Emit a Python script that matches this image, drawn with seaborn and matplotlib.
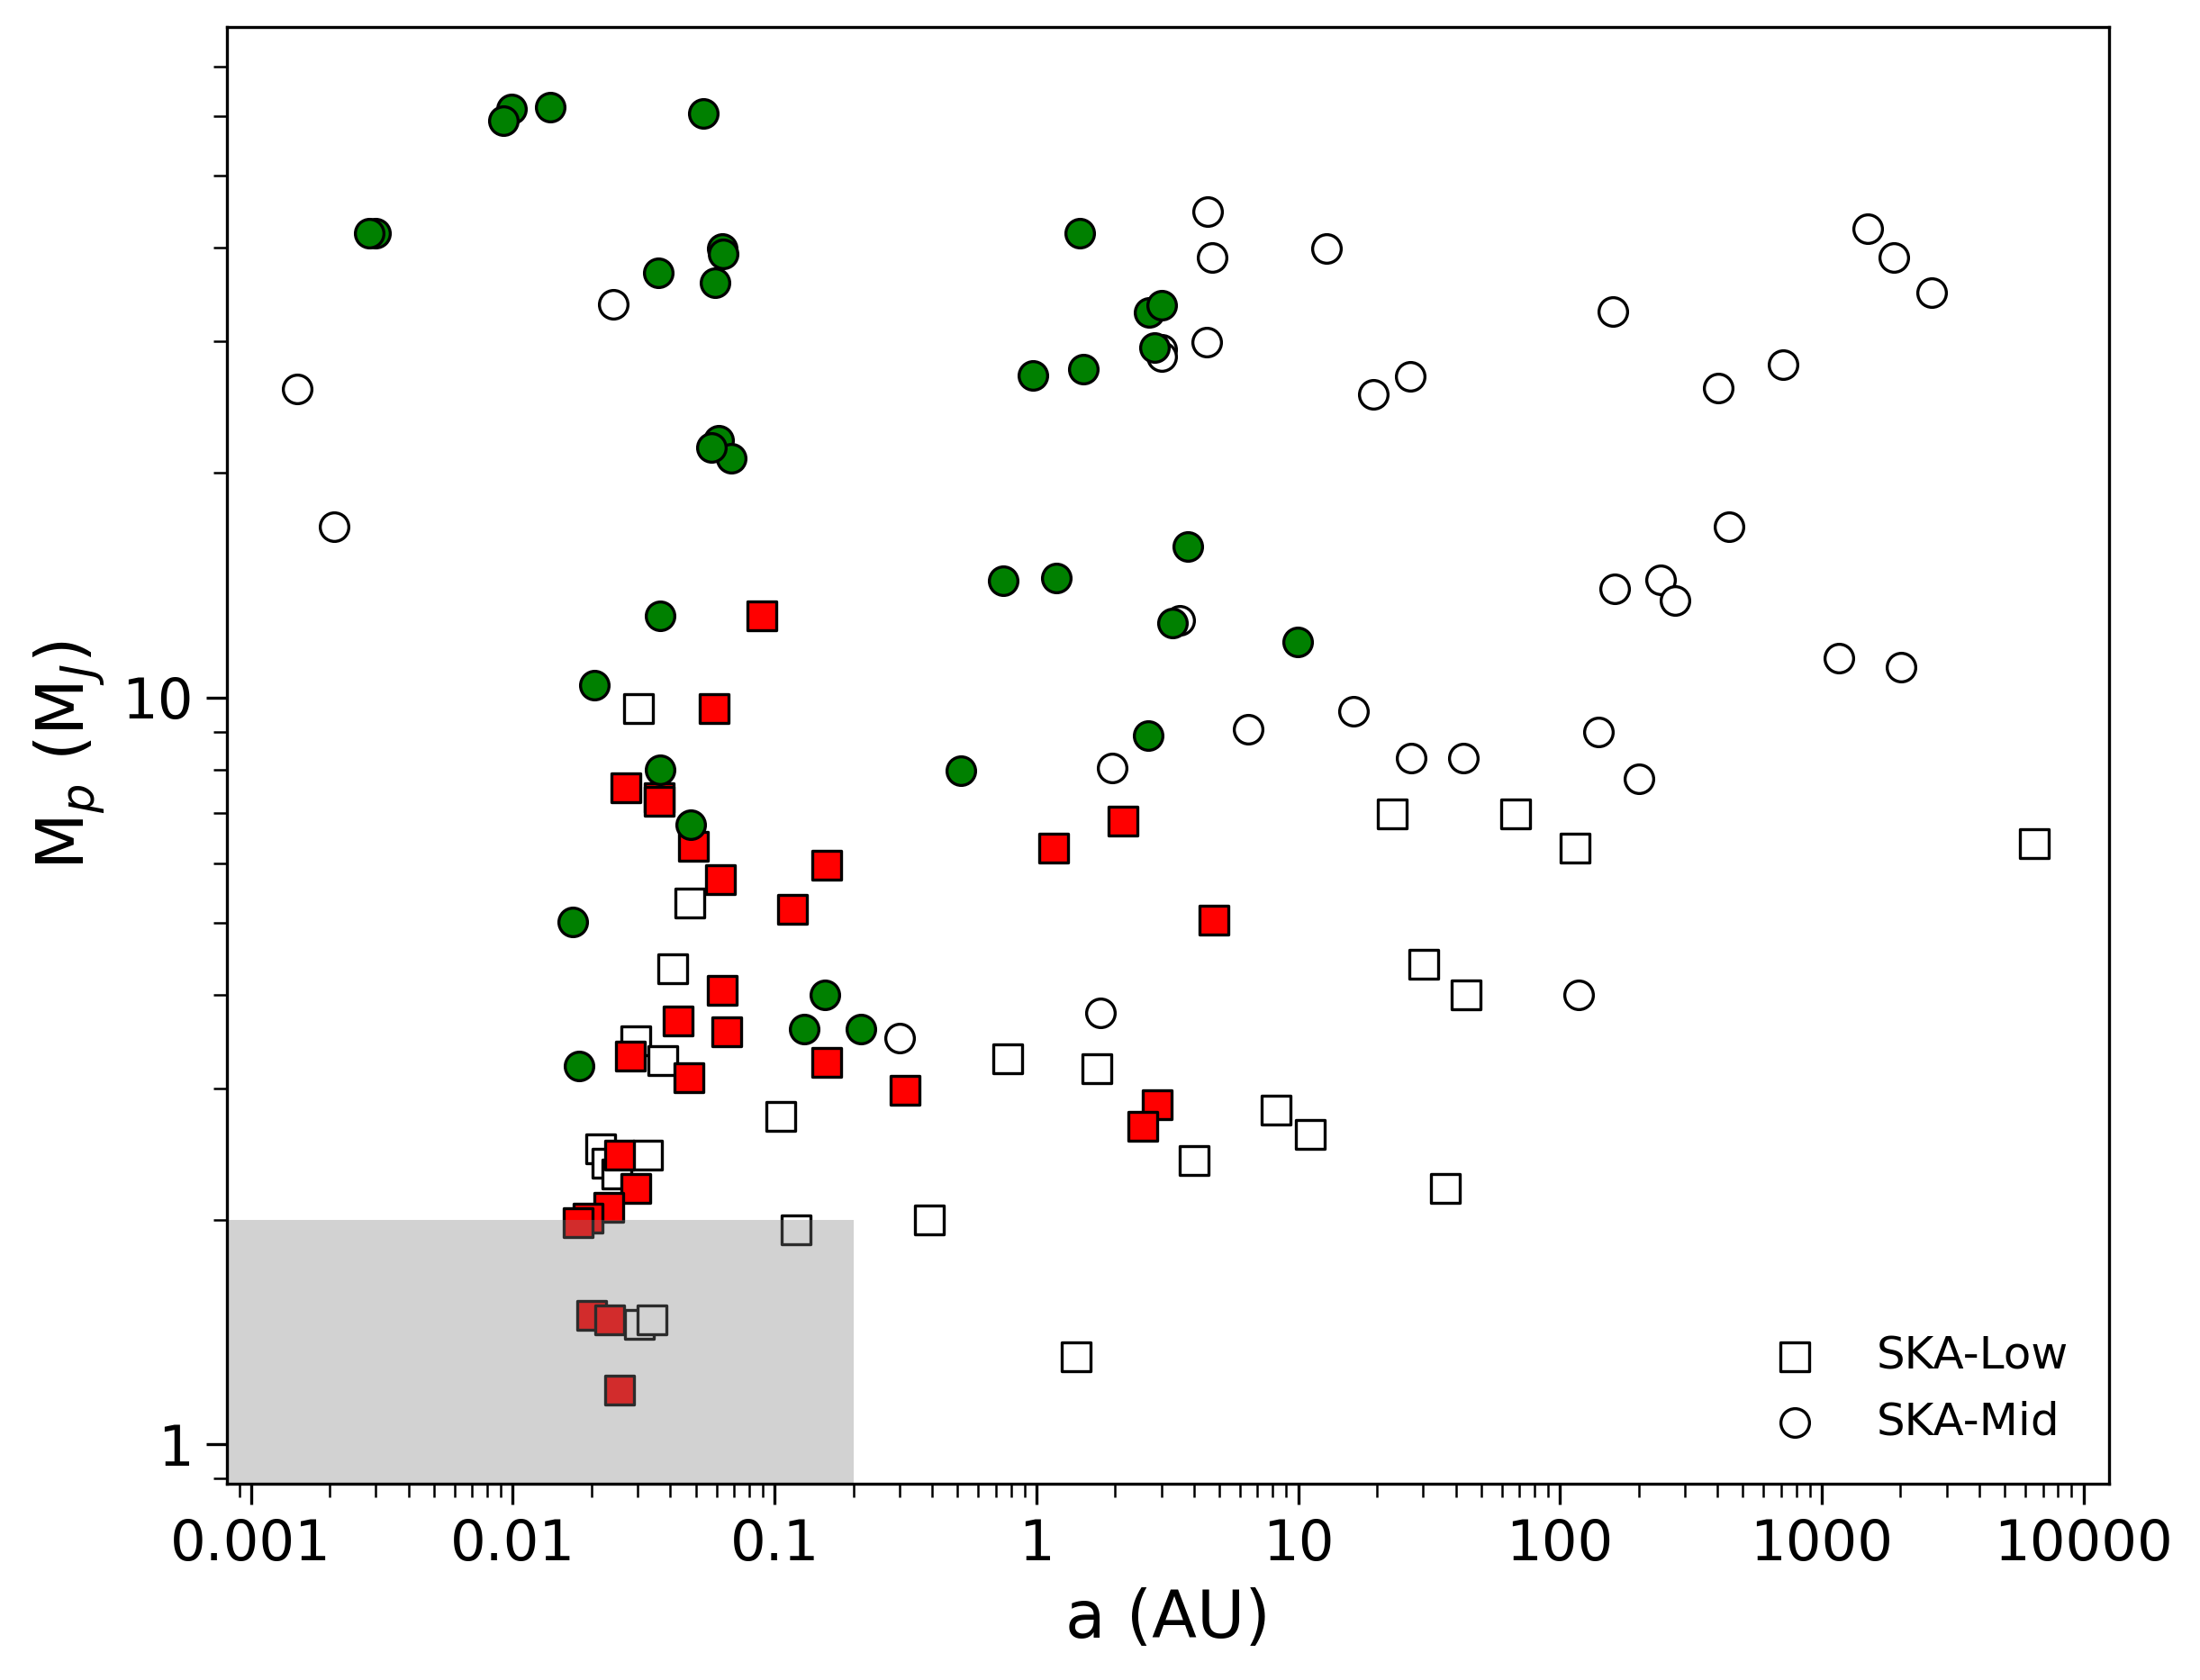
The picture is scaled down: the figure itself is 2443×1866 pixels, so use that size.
import numpy as np
import matplotlib.pyplot as plt
import seaborn as sns
from matplotlib.ticker import LogLocator, NullFormatter

# SKA-Low (open squares)
low_a = [0.0301, 0.0474, 0.0407, 0.0296, 0.0375, 0.1056, 0.0216, 0.0228, 0.0328,
         0.0250, 0.121, 0.0304, 0.0341, 0.389, 0.776, 1.706, 1.418, 4.02, 8.22,
         11.14, 36.5, 30.2, 43.8, 22.8, 67.9, 113.9, 6484]
low_mp = [9.68, 5.31, 4.33, 3.47, 3.27, 2.75, 2.49, 2.38, 2.44,
          2.30, 1.94, 1.447, 1.467, 2.00, 3.28, 3.19, 1.309, 2.40, 2.80,
          2.60, 2.20, 4.39, 4.00, 6.99, 6.99, 6.29, 6.38]

# SKA-Mid (open circles)
mid_a = [0.001495, 0.00207, 0.0241, 3.011, 3.011, 4.51, 4.69, 12.83, 4.47, 26.9,
         19.4, 3.53, 16.3, 6.44, 1.95, 27.1, 42.9, 1.762, 0.301, 117.9,
         1499, 1887, 2631, 159.4, 711, 401, 441, 162.2, 242.7, 274.6,
         1167, 2005, 140.7, 200.5]
mid_mp = [25.9, 16.95, 33.6, 29.3, 28.6, 44.8, 38.9, 39.9, 29.95, 26.9,
          25.5, 12.69, 9.58, 9.06, 8.04, 8.29, 8.29, 3.78, 3.50, 4.00,
          42.4, 38.9, 34.9, 32.9, 27.9, 25.95, 16.96, 13.99, 14.39, 13.49,
          11.29, 10.99, 8.99, 7.79]

# filled red squares
red_a = [0.0892, 0.0586, 0.0270, 0.0361, 0.0361, 0.0489, 0.0621, 0.1585, 0.1166,
         0.0633, 0.0429, 0.0656, 0.0282, 0.0472, 0.1587, 0.315, 0.0255, 0.02945,
         0.02324, 0.0194, 0.0177, 0.01995, 0.02347, 0.0255, 1.162, 2.147, 4.78,
         2.887, 2.545]
red_mp = [12.87, 9.68, 7.58, 7.34, 7.26, 6.33, 5.71, 5.97, 5.20,
          4.06, 3.69, 3.57, 3.31, 3.10, 3.25, 2.98, 2.44, 2.20,
          2.08, 2.01, 1.98, 1.487, 1.467, 1.184, 6.29, 6.83, 5.03,
          2.85, 2.67]

# filled green circles
green_a = [0.00988, 0.00921, 0.01392, 0.0534, 0.00300, 0.00282, 0.0359, 0.0632,
           0.0638, 0.0594, 0.0611, 0.0682, 0.0573, 0.0365, 0.02046, 0.0366,
           0.0477, 0.01693, 0.01791, 0.1559, 0.1293, 0.2138, 0.513, 1.459,
           2.694, 3.011, 2.83, 0.972, 1.517, 3.80, 0.746, 1.193, 3.31, 9.94, 2.684]
green_mp = [61.5, 59.2, 61.8, 60.6, 41.9, 41.9, 37.1, 39.9,
            39.3, 35.9, 22.1, 20.9, 21.6, 12.87, 10.4, 8.01,
            6.76, 5.01, 3.21, 4.00, 3.60, 3.60, 7.99, 41.9,
            32.8, 33.5, 29.4, 27.0, 27.5, 15.95, 14.35, 14.45, 12.6, 11.88, 8.89]

# shaded region limits
region_a_max = 0.2
region_mp_max = 2.0

x_ticks = [0.001, 0.01, 0.1, 1, 10, 100, 1000, 10000]
x_tick_labels = ['0.001', '0.01', '0.1', '1', '10', '100', '1000', '10000']
y_ticks = [1, 10]
y_tick_labels = ['1', '10']
x_lim = (0.000811, 12490)
y_lim = (0.885, 79.1)

sns.set_style("ticks", {'axes.edgecolor': 'black', 'xtick.color': 'black',
                        'ytick.color': 'black', 'text.color': 'black',
                        'axes.labelcolor': 'black'})
plt.rcParams['font.family'] = ['DejaVu Sans']

fig = plt.figure(figsize=(2443 / 300, 1866 / 300), dpi=300)
ax = fig.add_axes([0.1033, 0.1166, 0.8552, 0.8674])

size = 58
lw = 0.8
sns.scatterplot(x=low_a, y=low_mp, marker='s', s=size, color='white',
                edgecolor='black', linewidth=lw, label='SKA-Low', zorder=2, ax=ax)
sns.scatterplot(x=mid_a, y=mid_mp, marker='o', s=size, color='white',
                edgecolor='black', linewidth=lw, label='SKA-Mid', zorder=2, ax=ax)
sns.scatterplot(x=red_a, y=red_mp, marker='s', s=size, color='#ff0000',
                edgecolor='black', linewidth=lw, zorder=2, legend=False, ax=ax)
sns.scatterplot(x=green_a, y=green_mp, marker='o', s=size, color='#008000',
                edgecolor='black', linewidth=lw, zorder=2, legend=False, ax=ax)

ax.set_xscale('log')
ax.set_yscale('log')
ax.set_xlim(*x_lim)
ax.set_ylim(*y_lim)

# grey box drawn over the markers
ax.fill_between([x_lim[0], region_a_max], y_lim[0], region_mp_max,
                color='gray', alpha=0.35, linewidth=0, zorder=2.2)

ax.set_xticks(x_ticks, labels=x_tick_labels)
ax.set_yticks(y_ticks, labels=y_tick_labels)
ax.xaxis.set_minor_locator(LogLocator(base=10, subs=np.arange(2, 10), numticks=100))
ax.yaxis.set_minor_locator(LogLocator(base=10, subs=np.arange(2, 10), numticks=100))
ax.xaxis.set_minor_formatter(NullFormatter())
ax.yaxis.set_minor_formatter(NullFormatter())
ax.tick_params(which='major', length=5.5, width=0.8, labelsize=15)
ax.tick_params(which='minor', length=3.5, width=0.6)
for sp in ax.spines.values():
    sp.set_linewidth(0.8)

ax.set_xlabel('a (AU)', fontsize=17.5)
ax.set_ylabel(r'M$_p$ (M$_J$)', fontsize=17.5)

ax.legend(loc='lower right', frameon=False, fontsize=12, labelspacing=0.5)

fig.savefig('out.png', dpi=300)
